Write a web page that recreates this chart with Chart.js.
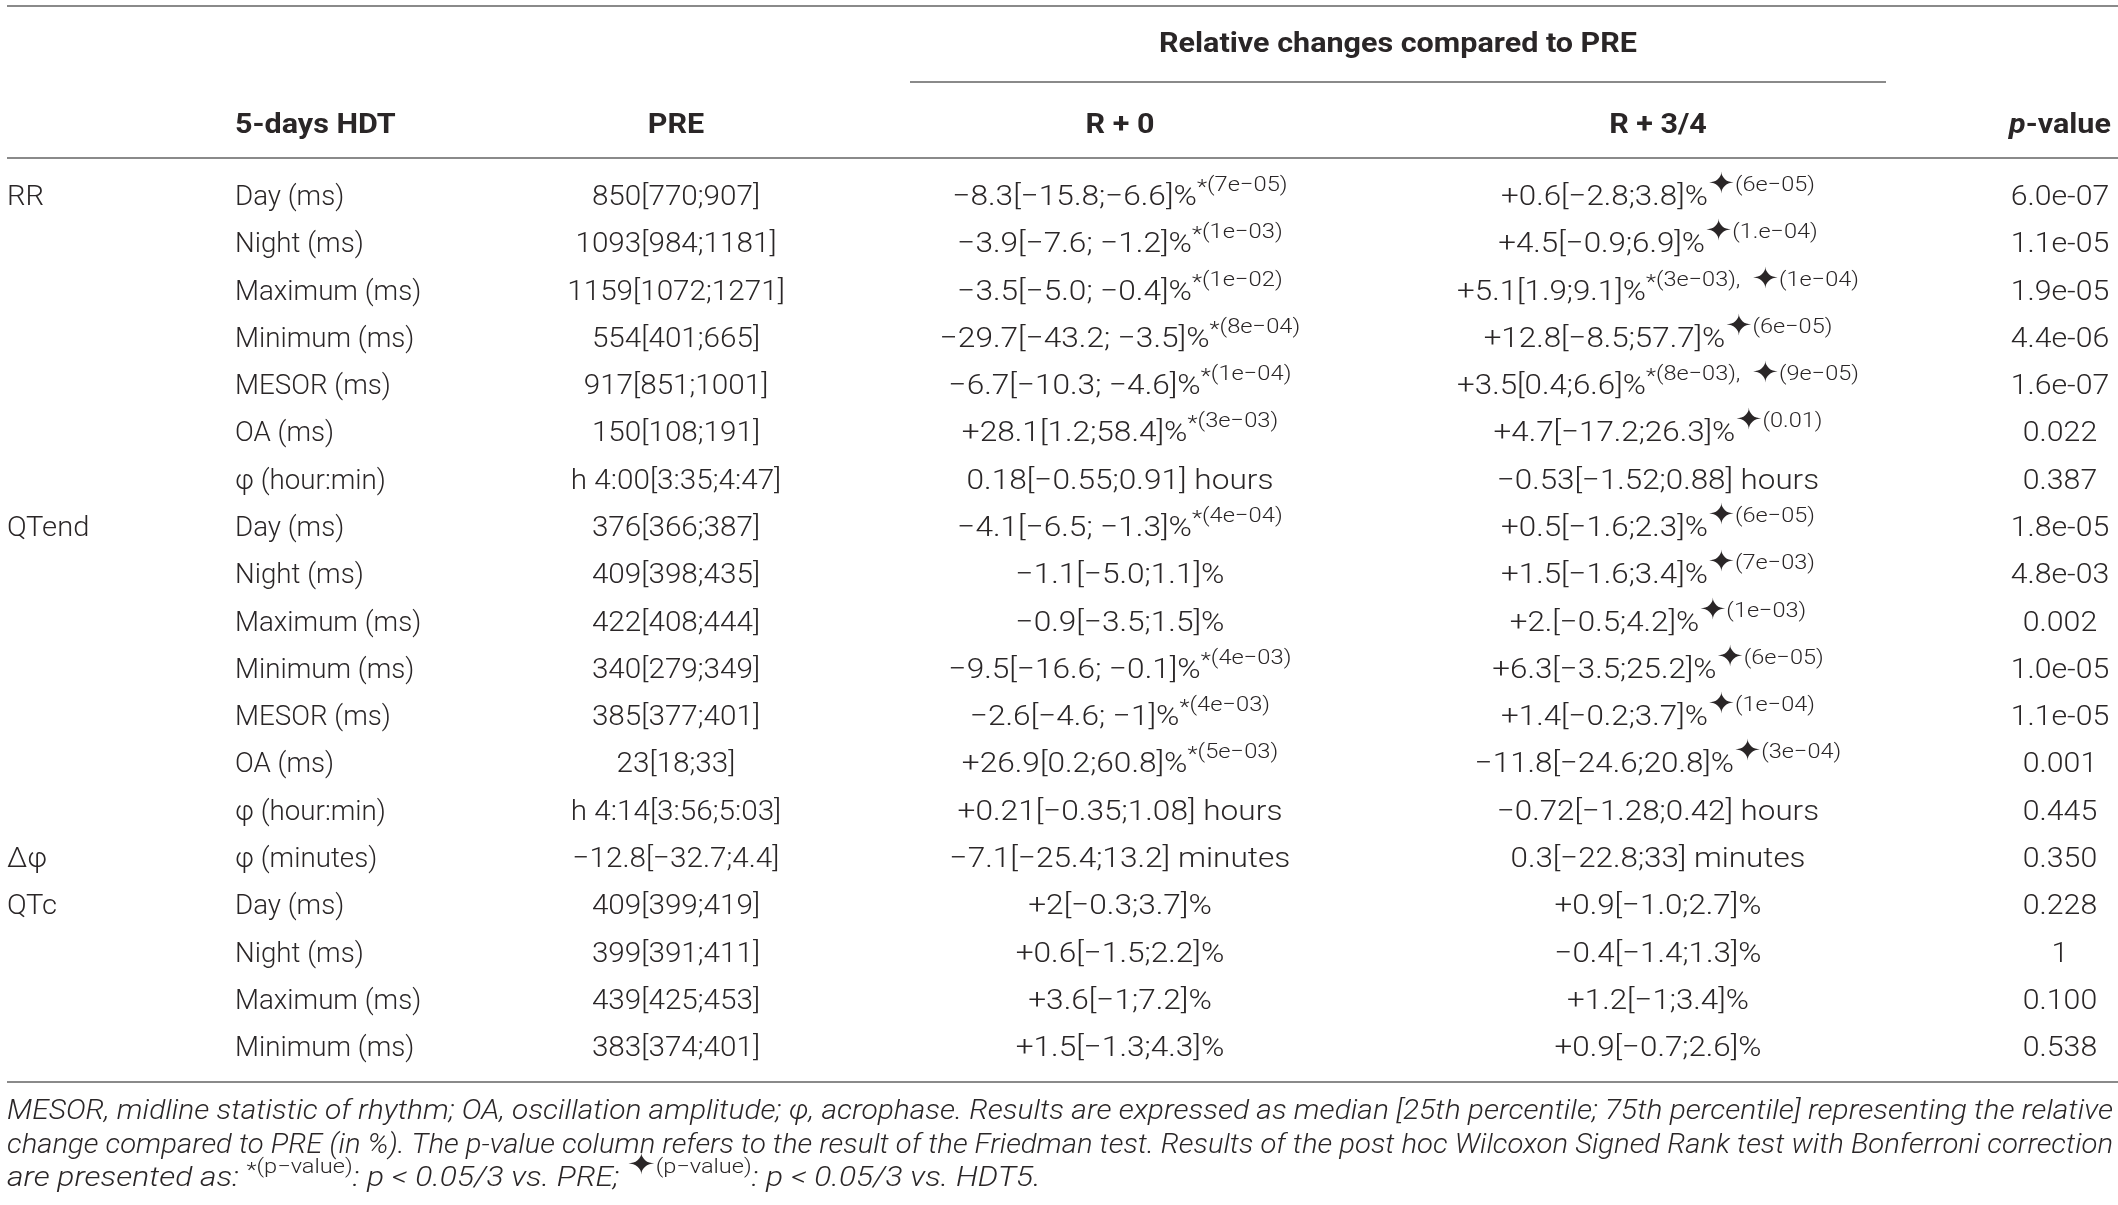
<!DOCTYPE html>
<html>
<head>
<meta charset="utf-8">
<script src="https://cdn.jsdelivr.net/npm/chart.js@4/dist/chart.umd.min.js"></script>
<style>
  html, body { margin: 0; padding: 0; background: #fff; }
  canvas { display: block; }
</style>
</head>
<body>
<canvas id="tableChart" width="2118" height="1205"></canvas>
<script>
// table content, one entry per row
const groups = ['RR', '', '', '', '', '', '', 'QTend', '', '', '', '', '', '', 'Δφ', 'QTc', '', '', ''];
const params = ['Day (ms)', 'Night (ms)', 'Maximum (ms)', 'Minimum (ms)', 'MESOR (ms)', 'OA (ms)', 'φ (hour:min)',
  'Day (ms)', 'Night (ms)', 'Maximum (ms)', 'Minimum (ms)', 'MESOR (ms)', 'OA (ms)', 'φ (hour:min)',
  'φ (minutes)', 'Day (ms)', 'Night (ms)', 'Maximum (ms)', 'Minimum (ms)'];
const pre = ['850[770;907]', '1093[984;1181]', '1159[1072;1271]', '554[401;665]', '917[851;1001]', '150[108;191]', 'h 4:00[3:35;4:47]',
  '376[366;387]', '409[398;435]', '422[408;444]', '340[279;349]', '385[377;401]', '23[18;33]', 'h 4:14[3:56;5:03]',
  '−12.8[−32.7;4.4]', '409[399;419]', '399[391;411]', '439[425;453]', '383[374;401]'];
const r0 = ['−8.3[−15.8;−6.6]%', '−3.9[−7.6; −1.2]%', '−3.5[−5.0; −0.4]%', '−29.7[−43.2; −3.5]%', '−6.7[−10.3; −4.6]%', '+28.1[1.2;58.4]%', '0.18[−0.55;0.91] hours',
  '−4.1[−6.5; −1.3]%', '−1.1[−5.0;1.1]%', '−0.9[−3.5;1.5]%', '−9.5[−16.6; −0.1]%', '−2.6[−4.6; −1]%', '+26.9[0.2;60.8]%', '+0.21[−0.35;1.08] hours',
  '−7.1[−25.4;13.2] minutes', '+2[−0.3;3.7]%', '+0.6[−1.5;2.2]%', '+3.6[−1;7.2]%', '+1.5[−1.3;4.3]%'];
const r0VsPre = ['7e−05', '1e−03', '1e−02', '8e−04', '1e−04', '3e−03', null,
  '4e−04', null, null, '4e−03', '4e−03', '5e−03', null,
  null, null, null, null, null];
const r34 = ['+0.6[−2.8;3.8]%', '+4.5[−0.9;6.9]%', '+5.1[1.9;9.1]%', '+12.8[−8.5;57.7]%', '+3.5[0.4;6.6]%', '+4.7[−17.2;26.3]%', '−0.53[−1.52;0.88] hours',
  '+0.5[−1.6;2.3]%', '+1.5[−1.6;3.4]%', '+2.[−0.5;4.2]%', '+6.3[−3.5;25.2]%', '+1.4[−0.2;3.7]%', '−11.8[−24.6;20.8]%', '−0.72[−1.28;0.42] hours',
  '0.3[−22.8;33] minutes', '+0.9[−1.0;2.7]%', '−0.4[−1.4;1.3]%', '+1.2[−1;3.4]%', '+0.9[−0.7;2.6]%'];
const r34VsPre = [null, null, '3e−03', null, '8e−03', null, null,
  null, null, null, null, null, null, null,
  null, null, null, null, null];
const r34VsHdt = ['6e−05', '1.e−04', '1e−04', '6e−05', '9e−05', '0.01', null,
  '6e−05', '7e−03', '1e−03', '6e−05', '1e−04', '3e−04', null,
  null, null, null, null, null];
const pValues = ['6.0e-07', '1.1e-05', '1.9e-05', '4.4e-06', '1.6e-07', '0.022', '0.387',
  '1.8e-05', '4.8e-03', '0.002', '1.0e-05', '1.1e-05', '0.001', '0.445',
  '0.350', '0.228', '1', '0.100', '0.538'];
const headers = ['', '5-days HDT', 'PRE', 'R + 0', 'R + 3/4', 'p-value'];
const spanHeader = 'Relative changes compared to PRE';
const notes = [
  'MESOR, midline statistic of rhythm; OA, oscillation amplitude; φ, acrophase. Results are expressed as median [25th percentile; 75th percentile] representing the relative',
  'change compared to PRE (in %). The p-value column refers to the result of the Friedman test. Results of the post hoc Wilcoxon Signed Rank test with Bonferroni correction'
];

// layout (x in canvas units, y in row units)
const colX = [7, 235, 676, 1120, 1658, 2060];
const colAlign = ['left', 'left', 'center', 'center', 'center', 'center'];
const colStretch = [1.04, 0.99, 1.06, 1.13, 1.12, 1.08];
const headStretch = 1.13;
const noteStretch = 1.18;
const headerRow = -1.52, spanRow = -3.23;
const rules = [
  { y: -4.0, x0: 7, x1: 2118 },
  { y: -2.39, x0: 910, x1: 1886 },
  { y: -0.78, x0: 7, x1: 2118 },
  { y: 18.75, x0: 7, x1: 2118 }
];
const noteRows = [19.34, 20.04, 20.74];

const INK = '#2a2627';
const FAM = 'Roboto, "Liberation Sans", Arial, sans-serif';
const F_MAIN = '300 28px ' + FAM;
const F_BOLD = 'bold 27px ' + FAM;
const F_SUP = '300 21px ' + FAM;
const F_STAR = '29px "DejaVu Sans", sans-serif';
const F_NOTE = 'italic 300 27px ' + FAM;
const F_NSUP = '300 20px ' + FAM;

function sigParts(main, vsPre, vsHdt) {
  const parts = [{ t: main, f: F_MAIN, dy: 0 }];
  if (vsPre) {
    parts.push({ t: '*', f: F_SUP, dy: -11 });
    parts.push({ t: '(' + vsPre + ')' + (vsHdt ? ',  ' : ''), f: F_SUP, dy: -14 });
  }
  if (vsHdt) {
    parts.push({ t: '✦', f: F_STAR, dy: -12 });
    parts.push({ t: '(' + vsHdt + ')', f: F_SUP, dy: -14 });
  }
  return parts;
}

// draws a run of differently styled pieces, stretched horizontally by s
function drawRich(ctx, parts, x, y, align, s) {
  s = s || 1;
  let w = 0;
  parts.forEach(p => { ctx.font = p.f; p.w = ctx.measureText(p.t).width; w += p.w; });
  const start = align === 'center' ? x - w * s / 2 : (align === 'right' ? x - w * s : x);
  ctx.save();
  ctx.translate(start, y);
  ctx.scale(s, 1);
  ctx.textAlign = 'left';
  let cx = 0;
  parts.forEach(p => {
    ctx.font = p.f;
    ctx.fillText(p.t, cx, p.dy);
    cx += p.w;
  });
  ctx.restore();
  return w * s;
}

const tablePlugin = {
  id: 'tableText',
  afterDatasetsDraw(chart) {
    const ctx = chart.ctx;
    const xs = chart.scales.x, ys = chart.scales.y;
    const base = 10; // baseline offset from row centre
    ctx.save();
    ctx.fillStyle = INK;
    ctx.textBaseline = 'alphabetic';

    // rules
    ctx.strokeStyle = '#8a8a8a';
    ctx.lineWidth = 2;
    rules.forEach(r => {
      const py = Math.round(ys.getPixelForValue(r.y));
      ctx.beginPath();
      ctx.moveTo(xs.getPixelForValue(r.x0), py);
      ctx.lineTo(xs.getPixelForValue(r.x1), py);
      ctx.stroke();
    });

    // spanning header and column headers
    const mid = (rules[1].x0 + rules[1].x1) / 2;
    drawRich(ctx, [{ t: spanHeader, f: F_BOLD, dy: 0 }], xs.getPixelForValue(mid), ys.getPixelForValue(spanRow) + base, 'center', headStretch);
    headers.forEach((h, c) => {
      if (!h) return;
      const hy = ys.getPixelForValue(headerRow) + base;
      const hx = xs.getPixelForValue(colX[c]);
      const parts = h.startsWith('p-')
        ? [{ t: 'p', f: 'italic ' + F_BOLD, dy: 0 }, { t: h.slice(1), f: F_BOLD, dy: 0 }]
        : [{ t: h, f: F_BOLD, dy: 0 }];
      drawRich(ctx, parts, hx, hy, colAlign[c], headStretch);
    });

    // body cells, positioned by the dataset points
    chart.data.datasets.forEach((ds, c) => {
      const meta = chart.getDatasetMeta(c);
      meta.data.forEach((pt, i) => {
        const cell = ds.cells[i];
        if (!cell) return;
        const parts = typeof cell === 'string' ? [{ t: cell, f: F_MAIN, dy: 0 }] : cell;
        drawRich(ctx, parts, pt.x, pt.y + base, colAlign[c], colStretch[c]);
      });
    });

    // footnote: first two lines justified to the table width
    const left = xs.getPixelForValue(7), right = xs.getPixelForValue(2113);
    notes.forEach((line, k) => {
      ctx.font = F_NOTE;
      const w = ctx.measureText(line).width;
      const py = ys.getPixelForValue(noteRows[k]) + base;
      drawRich(ctx, [{ t: line, f: F_NOTE, dy: 0 }], left, py, 'left', (right - left) / w);
    });
    drawRich(ctx, [
      { t: 'are presented as: ', f: F_NOTE, dy: 0 },
      { t: '*', f: F_NSUP, dy: -9 },
      { t: '(p−value)', f: F_NSUP, dy: -13 },
      { t: ': ', f: F_NOTE, dy: 0 },
      { t: 'p', f: F_NOTE, dy: 0 },
      { t: ' < 0.05/3 vs. PRE; ', f: F_NOTE, dy: 0 },
      { t: '✦', f: F_STAR, dy: -12 },
      { t: '(p−value)', f: F_NSUP, dy: -13 },
      { t: ': p < 0.05/3 vs. HDT5.', f: F_NOTE, dy: 0 }
    ], left, ys.getPixelForValue(noteRows[2]) + base, 'left', noteStretch);

    ctx.restore();
  }
};

const columns = [
  groups,
  params,
  pre,
  r0.map((v, i) => sigParts(v, r0VsPre[i], null)),
  r34.map((v, i) => sigParts(v, r34VsPre[i], r34VsHdt[i])),
  pValues
];

new Chart(document.getElementById('tableChart'), {
  type: 'scatter',
  data: {
    datasets: columns.map((cells, c) => ({
      label: headers[c] || 'group',
      cells: cells,
      data: cells.map((_, i) => ({ x: colX[c], y: i })),
      pointRadius: 0,
      pointHoverRadius: 0
    }))
  },
  options: {
    responsive: false,
    animation: false,
    devicePixelRatio: 1,
    layout: { padding: 0 },
    plugins: { legend: { display: false }, tooltip: { enabled: false } },
    events: [],
    scales: {
      x: { type: 'linear', min: 0, max: 2118, display: false },
      y: { type: 'linear', reverse: true, min: -4.124, max: 21.36, display: false }
    }
  },
  plugins: [tablePlugin]
});
</script>
</body>
</html>
